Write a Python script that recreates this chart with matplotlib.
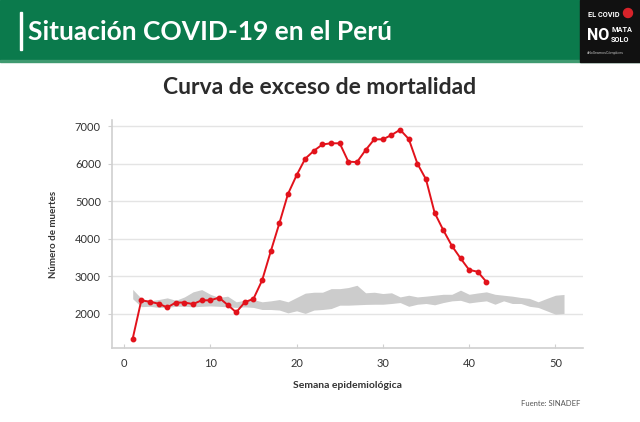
import numpy as np
import matplotlib.pyplot as plt
from matplotlib.patches import Rectangle, Ellipse

# exceso de mortalidad 2020 (SINADEF)
semanas = list(range(1, 43))
muertes = [1340, 2360, 2320, 2270, 2170, 2300, 2300, 2260, 2360, 2360,
           2430, 2240, 2040, 2310, 2400, 2890, 3660, 4410, 5190, 5690,
           6130, 6340, 6510, 6540, 6540, 6050, 6040, 6360, 6645, 6645,
           6760, 6900, 6655, 6000, 5580, 4690, 4230, 3810, 3480, 3170,
           3120, 2850]

# rango esperado (banda gris)
semanas_banda = list(range(1, 52))
banda_sup = [2650, 2410, 2345, 2380, 2425, 2360, 2450, 2585, 2645, 2520,
             2435, 2470, 2320, 2360, 2380, 2320, 2345, 2380, 2320, 2435,
             2550, 2575, 2575, 2670, 2670, 2700, 2760, 2560, 2575, 2540,
             2560, 2450, 2495, 2450, 2470, 2495, 2520, 2520, 2630, 2520,
             2555, 2585, 2520, 2495, 2470, 2435, 2410, 2320, 2410, 2495,
             2515]
banda_inf = [2400, 2190, 2200, 2170, 2170, 2200, 2200, 2185, 2200, 2210,
             2200, 2185, 2170, 2185, 2170, 2115, 2115, 2100, 2025, 2080,
             2010, 2100, 2115, 2140, 2230, 2230, 2240, 2250, 2255, 2255,
             2275, 2300, 2200, 2255, 2275, 2240, 2300, 2345, 2360, 2290,
             2320, 2345, 2255, 2345, 2275, 2275, 2200, 2170, 2080, 1990,
             2010]

titulo = "Situación COVID-19 en el Perú"
subtitulo = "Curva de exceso de mortalidad"

W, H = 640, 422
fig = plt.figure(figsize=(6.4, 4.22), dpi=100)
fig.patch.set_facecolor("white")

# cabecera verde
fig.patches.append(Rectangle((0, 1 - 60 / H), 1, 60 / H, transform=fig.transFigure,
                             color="#0b7a4c", zorder=0))
fig.patches.append(Rectangle((0, 1 - 62 / H), 1, 2 / H, transform=fig.transFigure,
                             color="#3f9a70", zorder=0))
fig.patches.append(Rectangle((20 / W, 1 - 50 / H), 2 / W, 38 / H, transform=fig.transFigure,
                             color="white", zorder=1))
fig.text(28 / W, 1 - 32 / H, titulo, color="white", fontsize=19, fontweight="bold",
         family="Lato", va="center", ha="left")

# logo
fig.patches.append(Rectangle((580 / W, 1 - 62 / H), 60 / W, 62 / H, transform=fig.transFigure,
                             color="#111111", zorder=1))
fig.text(588 / W, 1 - 15 / H, "EL COVID", color="white", fontsize=5.3, fontweight="bold",
         family="Roboto", va="center", ha="left")
fig.patches.append(Ellipse((628 / W, 1 - 13 / H), 9 / W, 9 / H, transform=fig.transFigure,
                           color="#d8232a", zorder=2))
fig.text(587 / W, 1 - 35 / H, "NO", color="white", fontsize=11.5, fontweight="bold",
         family="Roboto", va="center", ha="left")
fig.text(611 / W, 1 - 30 / H, "MATA", color="white", fontsize=5.3, fontweight="bold",
         family="Roboto", va="center", ha="left")
fig.text(611 / W, 1 - 40 / H, "SOLO", color="white", fontsize=5.3, fontweight="bold",
         family="Roboto", va="center", ha="left")
fig.text(587 / W, 1 - 53 / H, "#NoSeamosCómplices", color="#bbbbbb", fontsize=2.6,
         family="Roboto", va="center", ha="left")

fig.text(320 / W, 1 - 88 / H, subtitulo, color="#2b2b2b", fontsize=16.5, fontweight="bold",
         family="Lato", ha="center", va="center")

ax = fig.add_axes([112 / W, 1 - 348 / H, (583 - 112) / W, (348 - 120) / H])
ax.fill_between(semanas_banda, banda_inf, banda_sup, color="#cccccc", lw=0, zorder=2)
ax.plot(semanas, muertes, "-o", color="#e2121b", lw=1.4, ms=3.2, zorder=3)

ax.set_xlim(-1.4, 53.2)
ax.set_ylim(1090, 7160)
ax.set_xticks(range(0, 51, 10))
ax.set_yticks(range(2000, 7001, 1000))
ax.grid(axis="y", color="#e4e4e4", lw=1, zorder=0)
for s in ["top", "right"]:
    ax.spines[s].set_visible(False)
for s in ["left", "bottom"]:
    ax.spines[s].set_color("#d0d0d0")
    ax.spines[s].set_linewidth(1.2)
ax.tick_params(axis="y", length=3, color="#d0d0d0", labelsize=8, labelcolor="#333333", pad=5)
ax.tick_params(axis="x", direction="in", length=3, color="#d0d0d0", labelsize=8,
               labelcolor="#333333", pad=7)
for lab in ax.get_xticklabels() + ax.get_yticklabels():
    lab.set_family("Lato")

ax.set_ylabel("Número de muertes", fontsize=7, fontweight="bold", color="#333333",
              family="Lato", labelpad=12)
ax.set_xlabel("Semana epidemiológica", fontsize=7.5, fontweight="bold", color="#333333",
              family="Lato", labelpad=9)

fig.text(580 / W, 1 - 404 / H, "Fuente: SINADEF", fontsize=5.5, color="#555555",
         family="Lato", ha="right", va="center")

fig.savefig("out.png", dpi=100)
